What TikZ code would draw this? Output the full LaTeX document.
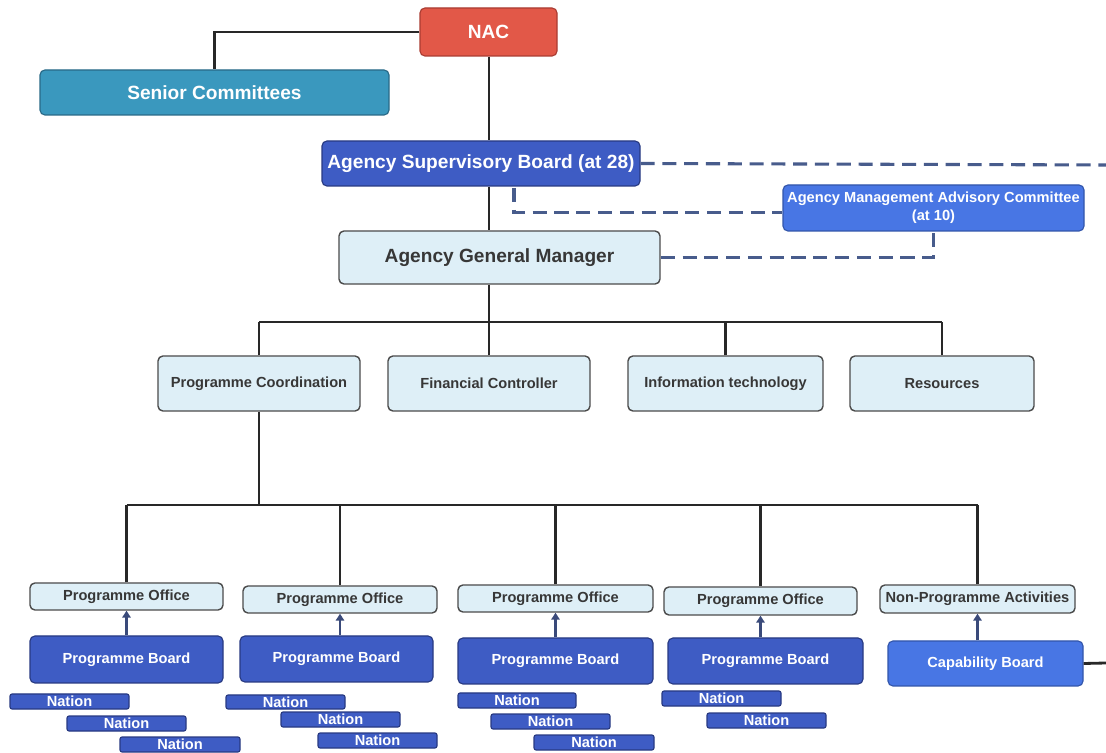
\documentclass[tikz,border=0pt]{standalone}
\usepackage{fontspec}
\setmainfont{Liberation Sans}
\usetikzlibrary{arrows.meta}
\definecolor{nacred}{RGB}{226,88,72}
\definecolor{nacedge}{RGB}{170,60,50}
\definecolor{senior}{RGB}{58,152,190}
\definecolor{senioredge}{RGB}{40,105,135}
\definecolor{boardblue}{RGB}{62,92,196}
\definecolor{boardedge}{RGB}{40,58,130}
\definecolor{brightblue}{RGB}{72,118,228}
\definecolor{brightedge}{RGB}{50,85,170}
\definecolor{lightbox}{RGB}{222,239,247}
\definecolor{lightedge}{RGB}{75,75,75}
\definecolor{textgray}{RGB}{55,55,55}
\definecolor{lineblack}{RGB}{40,40,40}
\definecolor{dashblue}{RGB}{72,92,140}
\definecolor{arrowblue}{RGB}{58,74,122}
\newcommand\pbox[7]{\node[#2, minimum width={((#5)-(#3))*0.025cm}, minimum height={((#6)-(#4))*0.025cm}] (#1) at ({((#3)+(#5))/2},{((#4)+(#6))/2}) {#7};}
\tikzset{
  base/.style={rounded corners=3.5pt, inner sep=1pt, font=\bfseries, align=center, line width=0.8pt},
  bigtxt/.style={font=\bfseries\fontsize{13.6}{16}\selectfont},
  smalltxt/.style={font=\bfseries\fontsize{10.4}{12.5}\selectfont},
  nacbox/.style={base, bigtxt, fill=nacred, draw=nacedge, text=white},
  seniorbox/.style={base, bigtxt, fill=senior, draw=senioredge, text=white},
  bluebig/.style={base, bigtxt, fill=boardblue, draw=boardedge, text=white},
  bluesmall/.style={base, smalltxt, fill=boardblue, draw=boardedge, text=white},
  brightsmall/.style={base, smalltxt, fill=brightblue, draw=brightedge, text=white},
  lightbig/.style={base, bigtxt, fill=lightbox, draw=lightedge, text=textgray, line width=1pt},
  lightsmall/.style={base, smalltxt, fill=lightbox, draw=lightedge, text=textgray, line width=1pt},
  nationbox/.style={base, smalltxt, fill=boardblue, draw=boardedge, text=white, rounded corners=1.5pt},
  conn/.style={draw=lineblack, line width=2pt},
  dashconn/.style={draw=dashblue, line width=2.2pt, dash pattern=on 10pt off 5.5pt},
  arr/.style={draw=arrowblue, line width=1.8pt, -{Triangle[width=6pt,length=5pt]}},
}
\begin{document}
\begin{tikzpicture}[x=0.025cm, y=-0.025cm]
\useasboundingbox[fill=white] (0,0) rectangle (1106,753);
% top
\pbox{nac}{nacbox}{420}{8}{557}{56}{NAC}
\pbox{sc}{seniorbox}{40}{70}{389}{115}{Senior Committees}
\pbox{asb}{bluebig}{322}{141}{640}{186}{Agency Supervisory Board (at 28)}
\pbox{agm}{lightbig}{339}{231}{660}{284}{Agency General Manager}
\pbox{amac}{brightsmall}{783}{185}{1084}{231}{Agency Management Advisory Committee\\(at 10)}
% row 2
\pbox{pc}{lightsmall}{158}{356}{360}{411}{Programme Coordination}
\pbox{fc}{lightsmall}{388}{356}{590}{411}{Financial Controller}
\pbox{it}{lightsmall}{628}{356}{823}{411}{Information technology}
\pbox{res}{lightsmall}{850}{356}{1034}{411}{Resources}
% offices
\pbox{po1}{lightsmall}{30}{583}{223}{610}{Programme Office}
\pbox{po2}{lightsmall}{243}{586}{437}{613}{Programme Office}
\pbox{po3}{lightsmall}{458}{585}{653}{612}{Programme Office}
\pbox{po4}{lightsmall}{664}{587}{857}{615}{Programme Office}
\pbox{npa}{lightsmall}{880}{585}{1075}{613}{Non-Programme Activities}
% boards
\pbox{pb1}{bluesmall}{30}{636}{223}{683}{Programme Board}
\pbox{pb2}{bluesmall}{240}{636}{433}{682}{Programme Board}
\pbox{pb3}{bluesmall}{458}{638}{653}{684}{Programme Board}
\pbox{pb4}{bluesmall}{668}{638}{863}{684}{Programme Board}
\pbox{cap}{brightsmall}{888}{641}{1083}{686}{Capability Board}
% nations
\pbox{n11}{nationbox}{10}{694}{129}{709}{Nation}
\pbox{n12}{nationbox}{67}{716}{186}{731}{Nation}
\pbox{n13}{nationbox}{120}{737}{240}{752}{Nation}
\pbox{n21}{nationbox}{226}{695}{345}{709}{Nation}
\pbox{n22}{nationbox}{281}{712}{400}{727}{Nation}
\pbox{n23}{nationbox}{318}{733}{437}{748}{Nation}
\pbox{n31}{nationbox}{458}{693}{576}{708}{Nation}
\pbox{n32}{nationbox}{491}{714}{610}{729}{Nation}
\pbox{n33}{nationbox}{534}{735}{654}{750}{Nation}
\pbox{n41}{nationbox}{662}{691}{781}{706}{Nation}
\pbox{n42}{nationbox}{707}{713}{826}{728}{Nation}
% coordinates
\coordinate (trunk) at (489,0);
\coordinate (busA) at (0,322);
\coordinate (busB) at (0,505);
\coordinate (dR) at (1106,165);
\coordinate (d1) at (514,188);
\coordinate (capR) at (1106,663);
% solid connectors
\draw[conn] (nac.west) -| (sc.north);
\draw[conn] (nac.south -| trunk) -- (asb.north -| trunk);
\draw[conn] (asb.south -| trunk) -- (agm.north -| trunk);
\draw[conn] (agm.south -| trunk) -- (trunk |- busA);
\draw[conn] (pc.north |- busA) -- (res.north |- busA);
\foreach \n in {pc,fc,it,res} \draw[conn] (\n.north) -- (\n.north |- busA);
\draw[conn] (pc.south) -- (pc.south |- busB);
\draw[conn] (po1.north |- busB) -- (npa.north |- busB);
\foreach \n in {po1,po2,po3,po4,npa} \draw[conn] (\n.north) -- (\n.north |- busB);
\draw[conn] (cap.east) -- (capR);
% dashed
\draw[dashconn] (asb.east) -- (dR);
\draw[dashconn] (d1) |- ([yshift=-3.5pt]amac.west);
\draw[dashconn] (agm.east) -| (amac.south);
% arrows
\draw[arr] (po1.south |- pb1.north) -- (po1.south);
\draw[arr] (po2.south |- pb2.north) -- (po2.south);
\draw[arr] (po3.south |- pb3.north) -- (po3.south);
\draw[arr] (po4.south |- pb4.north) -- (po4.south);
\draw[arr] (npa.south |- cap.north) -- (npa.south);
\end{tikzpicture}
\end{document}
